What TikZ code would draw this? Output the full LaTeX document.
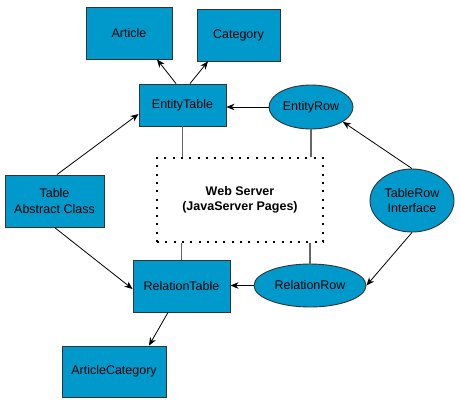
\documentclass[tikz,border=0pt]{standalone}
\usepackage{fontspec}
\setmainfont{Liberation Sans}
\usetikzlibrary{arrows.meta,shapes.geometric}
\definecolor{boxblue}{HTML}{0099CC}
\definecolor{edgegray}{HTML}{333333}
\definecolor{linkgray}{HTML}{666666}
\begin{document}
\begin{tikzpicture}[x=1pt,y=-1pt,
  every node/.style={font=\fontsize{12.5}{15.5}\selectfont, align=center, inner sep=0pt},
  tbox/.style={rectangle, draw=edgegray, fill=boxblue, line width=0.9pt},
  ebox/.style={ellipse, draw=edgegray, fill=boxblue, line width=0.9pt},
  arr/.style={-{Stealth[length=8pt,width=6.5pt,inset=2.5pt]}, line width=0.8pt, black},
  link/.style={linkgray, line width=1.5pt}]
\useasboundingbox (0,0) rectangle (460,402);
\node[tbox, minimum width=86pt, minimum height=52pt] (article) at (129,33) {Article};
\node[tbox, minimum width=83pt, minimum height=52pt] (category) at (238.5,35) {Category};
\node[tbox, minimum width=87pt, minimum height=42pt] (etable) at (182.5,105) {EntityTable};
\node[ebox, minimum width=84pt, minimum height=44pt] (erow) at (311,107) {EntityRow};
\node[draw=black, line width=2pt, dash pattern=on 2pt off 6.3pt, minimum width=166pt, minimum height=84pt, font=\fontsize{12.5}{15.5}\selectfont\bfseries] (web) at (240,200) {Web Server\\(JavaServer Pages)};
\node[tbox, minimum width=99pt, minimum height=52pt] (abstract) at (54.5,201) {Table\\Abstract Class};
\node[ebox, minimum width=84pt, minimum height=63pt] (trow) at (412,200.5) {TableRow\\Interface};
\node[ebox, minimum width=112pt, minimum height=43pt] (rrow) at (310,285.5) {RelationRow};
\node[tbox, minimum width=97pt, minimum height=52pt] (rtable) at (181.5,286) {RelationTable};
\node[tbox, minimum width=104pt, minimum height=51pt] (acat) at (114,371.5) {ArticleCategory};
% links to web server
\draw[link] (etable.south) -- (etable.south |- web.north);
\draw[link] (erow.south) -- (erow.south |- web.north);
\draw[link] (rtable.north |- web.south) -- (rtable.north);
\draw[link] (rrow.north |- web.south) -- (rrow.north);
% arrows
\draw[arr] ([xshift=-6.5pt]etable.north) -- ([xshift=28pt]article.south);
\draw[arr] ([xshift=7.5pt]etable.north) -- ([xshift=-30.5pt]category.south);
\draw[arr] ([xshift=2.5pt]abstract.north) -- ([yshift=-9pt]etable.west);
\draw[arr] (abstract.south) -- ([yshift=-3pt]rtable.west);
\draw[arr] (erow.west) -- (erow.west -| etable.east);
\draw[arr] (trow.north) -- (erow.-25);
\draw[arr] (trow.south) -- (rrow.east);
\draw[arr] (rrow.west) -- (rrow.west -| rtable.east);
\draw[arr] ([xshift=-13.5pt]rtable.south) -- ([xshift=35pt]acat.north);
\end{tikzpicture}
\end{document}
